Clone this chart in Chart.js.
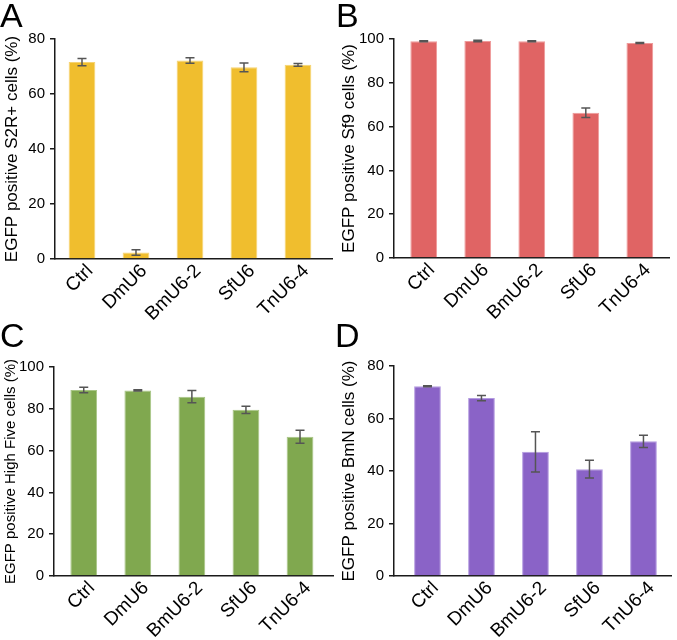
<!DOCTYPE html>
<html>
<head>
<meta charset="utf-8">
<script src="https://cdn.jsdelivr.net/npm/chart.js@4.4.1/dist/chart.umd.min.js"></script>
<style>
  html, body { margin: 0; padding: 0; background: #fff; }
  #fig { position: relative; width: 677px; height: 640px; font-family: "Liberation Sans", Arial, sans-serif; }
  .panel { position: absolute; }
  .letter { position: absolute; font-size: 34px; line-height: 34px; color: #000; }
</style>
</head>
<body>
<div id="fig">
  <div class="panel" style="left:0;top:0;width:337px;height:320px"><canvas id="chartA"></canvas></div>
  <div class="panel" style="left:337px;top:0;width:340px;height:320px"><canvas id="chartB"></canvas></div>
  <div class="panel" style="left:0;top:320px;width:337px;height:320px"><canvas id="chartC"></canvas></div>
  <div class="panel" style="left:337px;top:320px;width:340px;height:320px"><canvas id="chartD"></canvas></div>
  <div class="letter" style="left:0;top:-2px">A</div>
  <div class="letter" style="left:336px;top:-2px">B</div>
  <div class="letter" style="left:0;top:318px">C</div>
  <div class="letter" style="left:335px;top:318px">D</div>
</div>
<script>
const promoters = ['Ctrl', 'DmU6', 'BmU6-2', 'SfU6', 'TnU6-4'];

// mean and error (half-length of the whisker)
const s2rValues = [71.6, 2.4, 72.2, 69.7, 70.6];
const s2rErrors = [1.3, 1.0, 1.0, 1.6, 0.5];

const sf9Values = [99.0, 99.1, 99.0, 66.3, 98.2];
const sf9Errors = [0.2, 0.3, 0.2, 2.2, 0.2];

const highFiveValues = [89.0, 88.8, 85.8, 79.5, 66.6];
const highFiveErrors = [1.3, 0.3, 2.9, 1.7, 3.1];

const bmnValues = [72.3, 67.8, 47.3, 40.7, 51.3];
const bmnErrors = [0.2, 1.0, 7.7, 3.4, 2.3];

const FONT = '"Liberation Sans", Arial, sans-serif';

/* Draws the mean ± error whiskers from the dataset's `errors` array
   through the chart's own scales. */
const errorBars = {
    id: 'errorBars',
    afterDatasetsDraw(chart) {
        const { ctx, scales: { x, y } } = chart;
        const ds = chart.data.datasets[0];
        ctx.save();
        ctx.strokeStyle = '#555';
        ctx.lineWidth = 1.5;
        ds.data.forEach((pt, i) => {
            const err = ds.errors[i];
            const px = x.getPixelForValue(pt.x);
            const top = y.getPixelForValue(pt.y + err);
            const bot = y.getPixelForValue(pt.y - err);
            ctx.beginPath();
            ctx.moveTo(px, top); ctx.lineTo(px, bot);
            ctx.moveTo(px - 4.5, top); ctx.lineTo(px + 4.5, top);
            ctx.moveTo(px - 4.5, bot); ctx.lineTo(px + 4.5, bot);
            ctx.stroke();
        });
        ctx.restore();
    }
};

// box: plot-area edges in panel pixels; xMin/xMax: category range shown on the x axis
function makePanel(id, values, errors, yTitle, titleSize, yMax, color, edge, box) {
    const panelW = document.getElementById(id).parentElement.clientWidth;
    return new Chart(document.getElementById(id), {
        type: 'bar',
        data: {
            datasets: [{
                data: values.map((v, i) => ({ x: i, y: v })),
                errors: errors,
                backgroundColor: color,
                borderColor: edge,
                borderWidth: 1,
                barPercentage: 0.99,
                categoryPercentage: 0.5
            }]
        },
        options: {
            responsive: true,
            maintainAspectRatio: false,
            animation: false,
            layout: { padding: { left: 0, top: box.top, right: panelW - box.right, bottom: 0 } },
            plugins: { legend: { display: false }, tooltip: { enabled: false } },
            scales: {
                x: {
                    type: 'linear',
                    offset: false,
                    bounds: 'data',
                    min: box.xMin,
                    max: box.xMax,
                    afterBuildTicks: s => { s.ticks = promoters.map((_, i) => ({ value: i })); },
                    afterFit: s => { s.height = 320 - box.bottom; },
                    grid: { display: false, drawTicks: false, offset: false },
                    border: { display: true, color: '#1a1a1a', width: 1.5 },
                    ticks: {
                        autoSkip: false,
                        minRotation: 45,
                        maxRotation: 45,
                        padding: 1,
                        labelOffset: 8,
                        color: '#000',
                        font: { family: FONT, size: 19 },
                        callback: v => promoters[v] ?? ''
                    }
                },
                y: {
                    min: 0,
                    max: yMax,
                    afterFit: s => { s.width = box.left; },
                    grid: { drawOnChartArea: false, drawTicks: true, tickLength: 5, color: '#1a1a1a', lineWidth: 1.5 },
                    border: { display: true, color: '#1a1a1a', width: 1.5 },
                    ticks: { stepSize: 20, padding: 5, color: '#000', font: { family: FONT, size: 15 } },
                    title: { display: true, text: yTitle, color: '#000', font: { family: FONT, size: titleSize }, padding: { top: 2, bottom: 2 } }
                }
            }
        },
        plugins: [errorBars]
    });
}

makePanel('chartA', s2rValues, s2rErrors, 'EGFP positive S2R+ cells (%)', 17, 80, '#F0BE2E', '#F6D372',
    { left: 55, top: 39, right: 332, bottom: 259, xMin: -0.5, xMax: 4.63 });
makePanel('chartB', sf9Values, sf9Errors, 'EGFP positive Sf9 cells (%)', 17, 100, '#E06464', '#EE9A9A',
    { left: 57, top: 39, right: 332, bottom: 258, xMin: -0.55, xMax: 4.54 });
makePanel('chartC', highFiveValues, highFiveErrors, 'EGFP positive High Five cells (%)', 15, 100, '#80A84F', '#A8C585',
    { left: 54, top: 47, right: 333, bottom: 256, xMin: -0.55, xMax: 4.61 });
makePanel('chartD', bmnValues, bmnErrors, 'EGFP positive BmN cells (%)', 17, 80, '#8A63C7', '#B39AE0',
    { left: 57, top: 46, right: 334, bottom: 256, xMin: -0.62, xMax: 4.51 });
</script>
</body>
</html>
